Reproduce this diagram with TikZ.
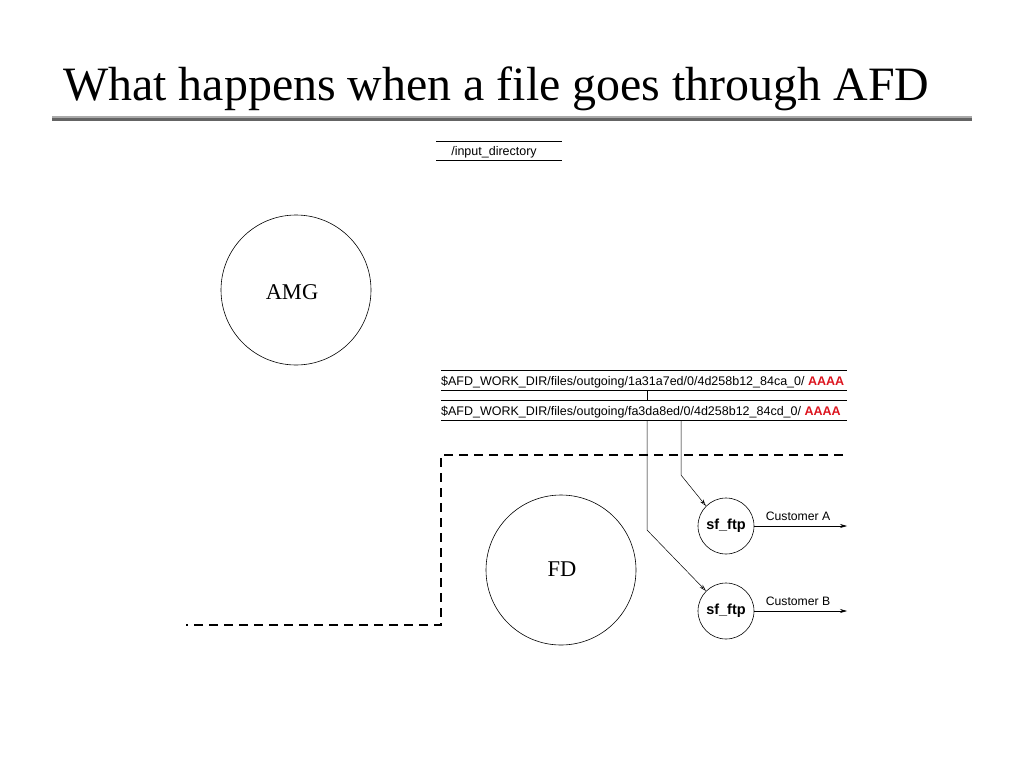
\documentclass[tikz,border=0pt]{standalone}
\usepackage{fontspec}
\setmainfont{Liberation Serif}
\newfontfamily\pathfont{Liberation Sans}
\usetikzlibrary{arrows.meta}
\definecolor{aaared}{RGB}{220,20,30}
\definecolor{rulelight}{RGB}{170,170,170}
\definecolor{ruledark}{RGB}{100,100,100}
\tikzset{
  proc/.style={draw, circle, line width=0.6pt, inner sep=0pt},
  big/.style={proc, minimum size=150pt, font=\fontsize{22.5}{22.5}\selectfont},
  small/.style={proc, minimum size=56pt, font=\pathfont\bfseries\fontsize{14.5}{14.5}\selectfont},
  dirline/.style={line width=0.6pt},
  dirtext/.style={inner sep=0pt, anchor=base west, font=\pathfont\fontsize{12.5}{12.5}\selectfont},
  flow/.style={line width=0.5pt, -{Stealth[length=7pt,width=4pt,open]}},
  outarrow/.style={line width=0.6pt, -{Stealth[length=7pt,width=4pt]}},
  bound/.style={line width=1.5pt, dash pattern=on 9pt off 6pt},
  lbl/.style={inner sep=0pt, anchor=base, font=\pathfont\fontsize{12.2}{12.2}\selectfont}
}
\begin{document}
\begin{tikzpicture}[x=1pt,y=-1pt]
\useasboundingbox (0,0) rectangle (1024,768);
% title
\node[inner sep=0pt, anchor=base west, font=\fontsize{47.9}{47.9}\selectfont] (title) at (63,100) {What happens when a file goes through AFD};
\fill[rulelight] (52,116) rectangle (972,118);
\fill[ruledark] (52,118) rectangle (972,121);
% input directory
\draw[dirline] (436,141) -- (562,141);
\draw[dirline] (436,160) -- (562,160);
\node[inner sep=0pt, anchor=base, font=\pathfont\fontsize{12.5}{12.5}\selectfont] (indir) at (494,155) {/input\_directory};
% AMG and FD
\node[big] (amg) at (296,290) {};
\node[inner sep=0pt, anchor=base, font=\fontsize{22.5}{22.5}\selectfont] (amgt) at (292,299) {AMG};
\node[big] (fd) at (561,570) {};
\node[inner sep=0pt, anchor=base, font=\fontsize{22.5}{22.5}\selectfont] (fdt) at (562,576) {FD};
% outgoing directories
\draw[dirline] (441,370) -- (847,370);
\draw[dirline] (441,390.5) -- (847,390.5);
\draw[dirline] (441,400.5) -- (847,400.5);
\draw[dirline] (441,420.5) -- (847,420.5);
\node[dirtext] (dirA) at (441,385) {\$AFD\_WORK\_DIR/files/outgoing/1a31a7ed/0/4d258b12\_84ca\_0/ {\color{aaared}\bfseries AAAA}};
\node[dirtext] (dirB) at (441,415) {\$AFD\_WORK\_DIR/files/outgoing/fa3da8ed/0/4d258b12\_84cd\_0/ {\color{aaared}\bfseries AAAA}};
\coordinate (t1) at (647,390.5);
\coordinate (t2) at (647,400.5);
\draw[line width=0.5pt] (t1) -- (t2);
% dashed boundary
\coordinate (d1) at (843,455);
\coordinate (d2) at (441,455);
\coordinate (d3) at (441,625);
\coordinate (d4) at (186,625);
\draw[bound] (d1) -- (d2) -- (d3) -- (d4);
% sf_ftp processes
\node[small] (sfa) at (726,526) {sf\_ftp};
\node[small] (sfb) at (726,611) {sf\_ftp};
\coordinate (sA) at (681,420.5);
\coordinate (sB) at (647,420.5);
\draw[flow] (sA) -- (681,475) -- (sfa.north west);
\draw[flow] (sB) -- (647,530) -- (sfb.north west);
% outputs
\coordinate (ea) at (847,526);
\coordinate (eb) at (847,611);
\draw[outarrow] (sfa.east) -- (ea);
\draw[outarrow] (sfb.east) -- (eb);
\node[lbl] (ca) at (798,520) {Customer A};
\node[lbl] (cb) at (798,605) {Customer B};
\end{tikzpicture}
\end{document}
